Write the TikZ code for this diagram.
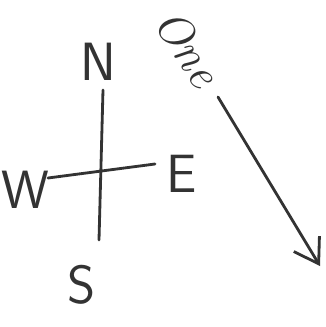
\documentclass[tikz,border=0pt]{standalone}
\usepackage{tikz}
\usetikzlibrary{arrows.meta,positioning}
\definecolor{pencil}{HTML}{333333}

\begin{document}
\begin{tikzpicture}[
    x=0.03cm, y=-0.03cm,
    letter/.style={text=pencil, font=\sffamily\fontsize{46}{46}\selectfont, inner sep=0pt},
    stroke/.style={draw=pencil, line width=2.4pt, line cap=round},
    arrow/.style={stroke, -{Straight Barb[length=7mm, width=9mm, line width=2.4pt]}}
]
\useasboundingbox (0,0) rectangle (325,327);

% Compass letters
\node[letter] (north) at (98, 62) {N};
\node[letter] (east) at (182, 174) {E};
\node[letter] (south) at (82, 285) {S};
\node[letter] (west) at (25, 190) {W};

% Line ends
\coordinate (top) at (103, 90);
\coordinate (bottom) at (99, 240);
\coordinate (left) at (48, 178);
\coordinate (right) at (155, 164);

% Cross
\draw[stroke] (top) -- (bottom);
\draw[stroke] (left) -- (right);

% Arrow with label
\node[letter, font=\itshape\fontsize{40}{40}\selectfont, rotate=-57] (one) at (188, 48) {One};
\coordinate (tail) at (218, 97);
\coordinate (tip) at (320, 266);
\draw[arrow] (tail) -- (tip);

\end{tikzpicture}
\end{document}
